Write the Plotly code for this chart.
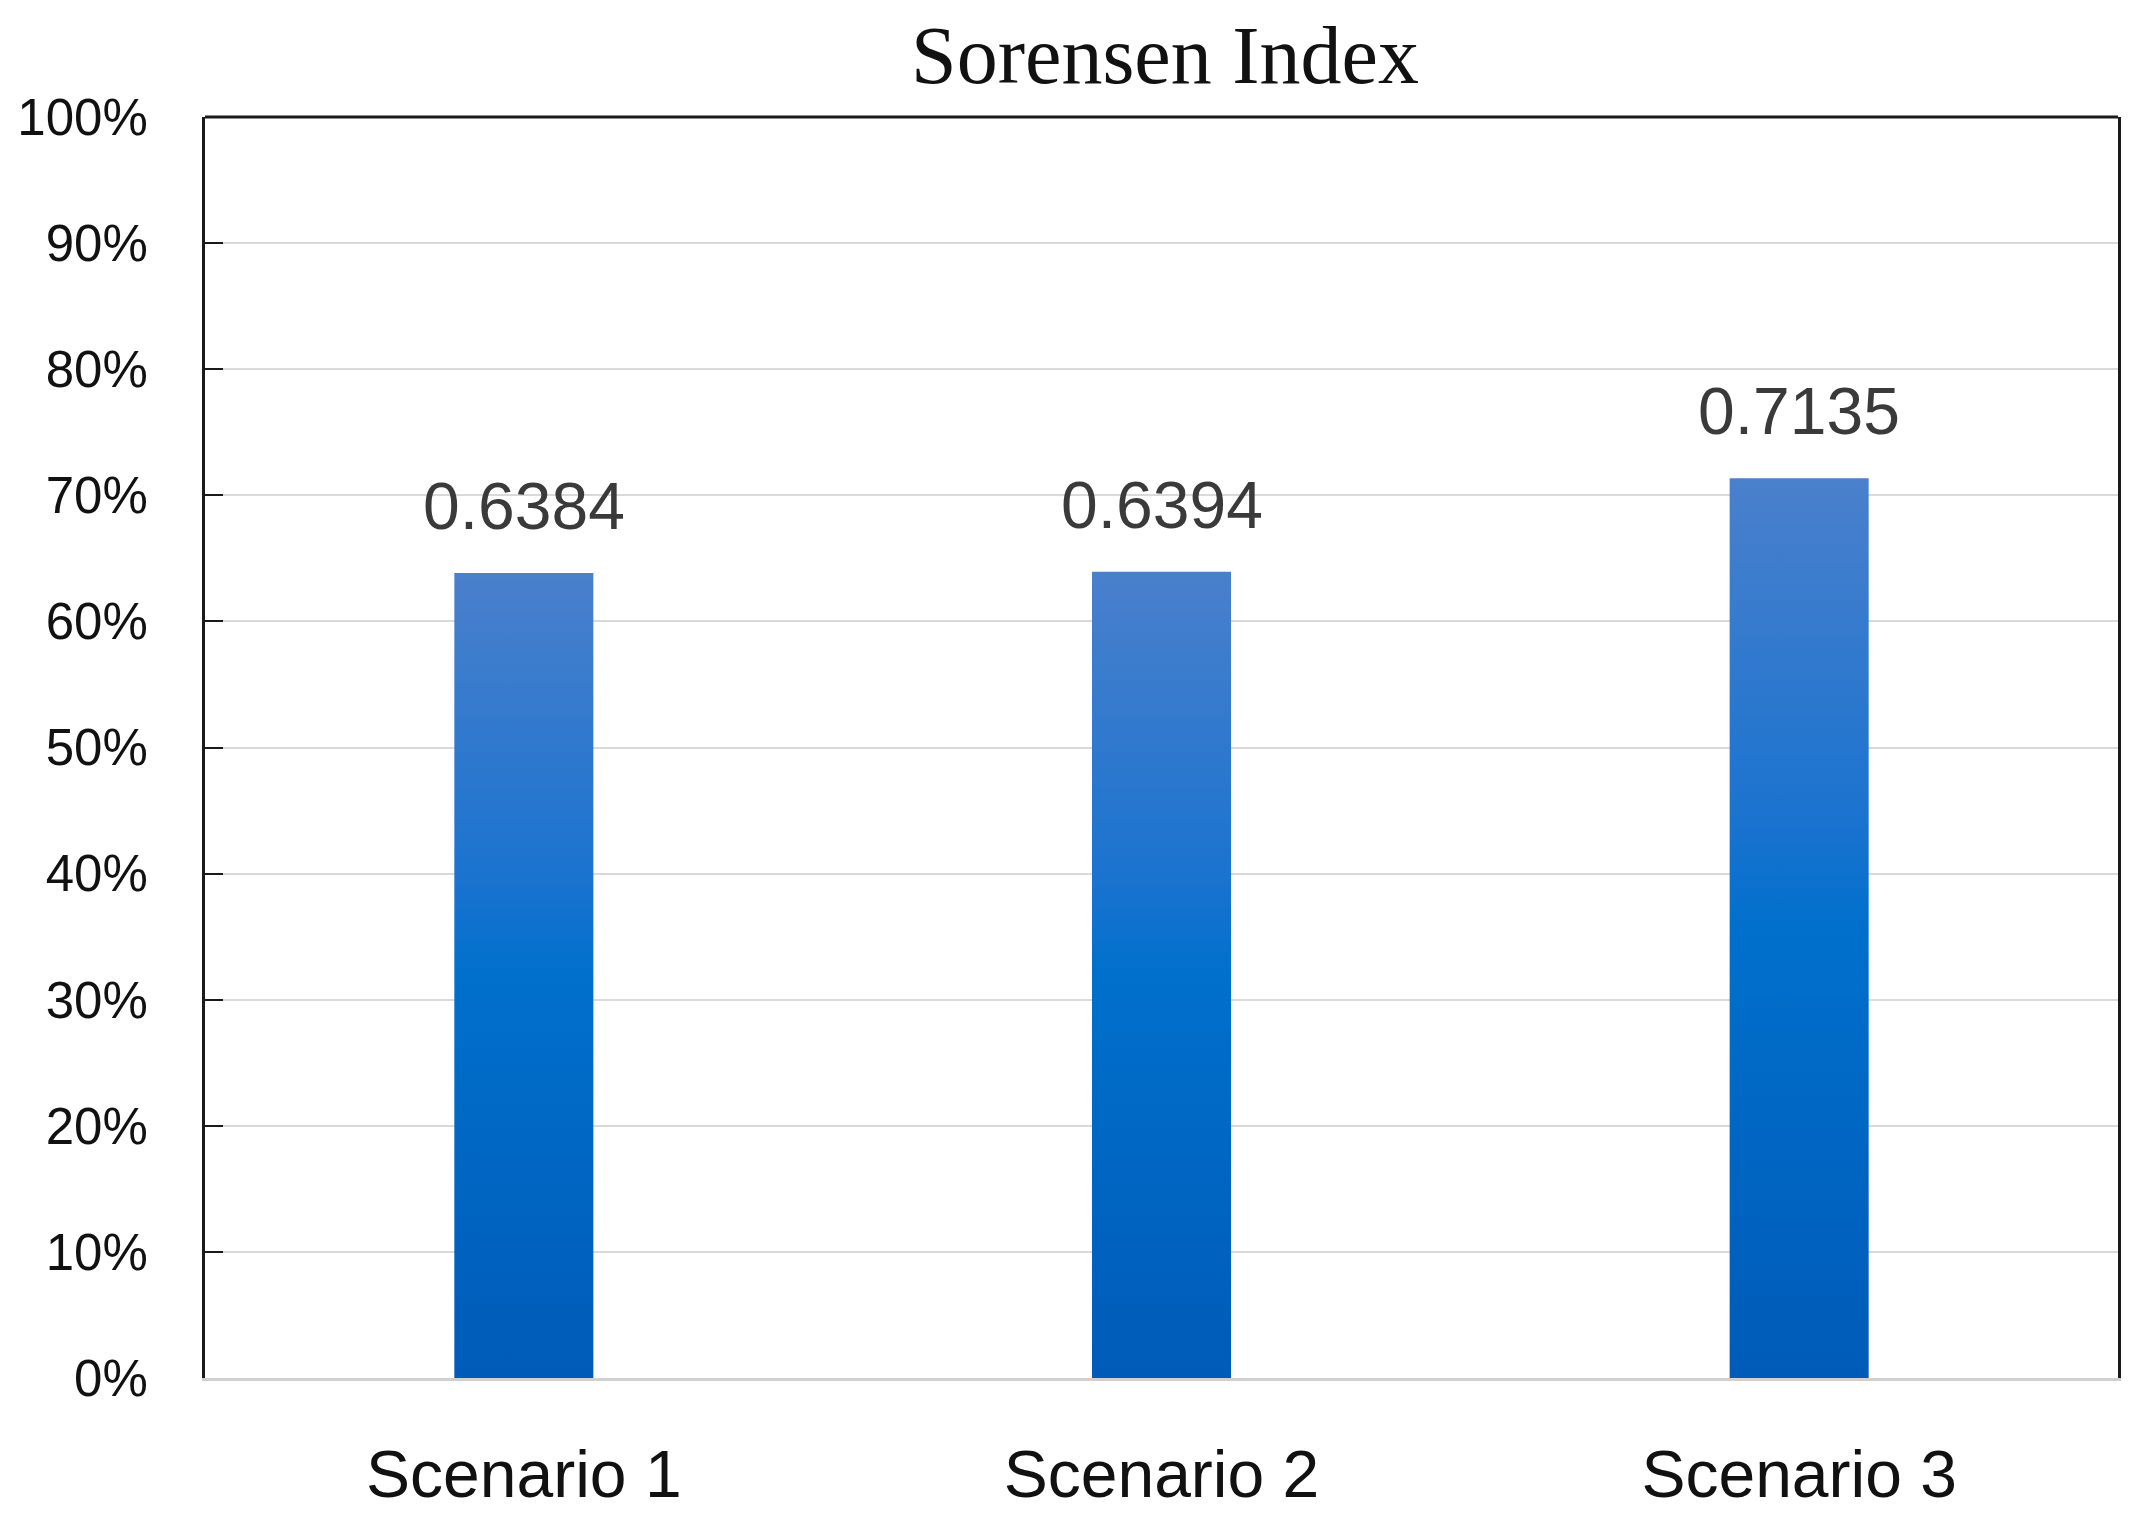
import plotly.graph_objects as go

categories = ["Scenario 1", "Scenario 2", "Scenario 3"]
values = [0.6384, 0.6394, 0.7135]
tick_vals = [0, 0.1, 0.2, 0.3, 0.4, 0.5, 0.6, 0.7, 0.8, 0.9, 1.0]

bar_w = 0.218
positions = list(range(len(categories)))

fig = go.Figure()

# gradient-filled bars (polygons built from the data via the axis scales)
for xi, v in zip(positions, values):
    fig.add_trace(go.Scatter(
        x=[xi - bar_w / 2, xi + bar_w / 2, xi + bar_w / 2, xi - bar_w / 2, xi - bar_w / 2],
        y=[0, 0, v, v, 0],
        mode="lines", line=dict(width=0),
        fill="toself",
        fillgradient=dict(
            type="vertical",
            start=0, stop=v,
            colorscale=[[0, "#005bb8"], [0.5, "#0070cc"], [0.62, "#1a73cf"], [1, "#4a80cc"]],
        ),
        hoverinfo="skip", showlegend=False,
    ))

# invisible bar trace for hover/semantics
fig.add_trace(go.Bar(
    x=positions, y=values, width=bar_w,
    marker=dict(color="rgba(0,0,0,0)", line=dict(width=0)),
    hovertext=categories, showlegend=False,
))

for xi, v in zip(positions, values):
    fig.add_annotation(
        x=xi, y=v, text=f"{v:.4f}", showarrow=False,
        yanchor="bottom", yshift=28,
        font=dict(family="Liberation Sans, Arial, sans-serif", size=66, color="#3a3a3a"),
    )

fig.add_shape(type="line", xref="paper", yref="paper", x0=0, x1=1, y0=1, y1=1,
              line=dict(color="#1a1a1a", width=3))

fig.update_layout(
    title=dict(text="Sorensen Index", x=0.545, xanchor="center", y=1 - 47 / 1528,
               yref="container", yanchor="middle",
               font=dict(family="Liberation Serif, Times New Roman, serif", size=82, color="#111111")),
    plot_bgcolor="white", paper_bgcolor="white",
    margin=dict(l=197, r=13, t=109, b=142),
    xaxis=dict(
        range=[-0.5, 2.5], tickvals=positions, ticktext=categories,
        showgrid=False, zeroline=False, automargin=False,
        showline=True, linecolor="#d0d0d0", linewidth=3,
        ticks="", ticklabelstandoff=37,
        tickfont=dict(family="Liberation Sans, Arial, sans-serif", size=66, color="#111111"),
    ),
    yaxis=dict(
        range=[0, 1], tickvals=tick_vals, tickformat=".0%",
        showgrid=True, gridcolor="#d9d9d9", gridwidth=2,
        zeroline=False, automargin=False,
        showline=True, mirror=True, linecolor="#1a1a1a", linewidth=3,
        ticks="inside", ticklen=18, tickwidth=2, tickcolor="#1a1a1a",
        ticklabelstandoff=44,
        tickfont=dict(family="Liberation Sans, Arial, sans-serif", size=51, color="#111111"),
    ),
)

fig.write_html("out.html")
